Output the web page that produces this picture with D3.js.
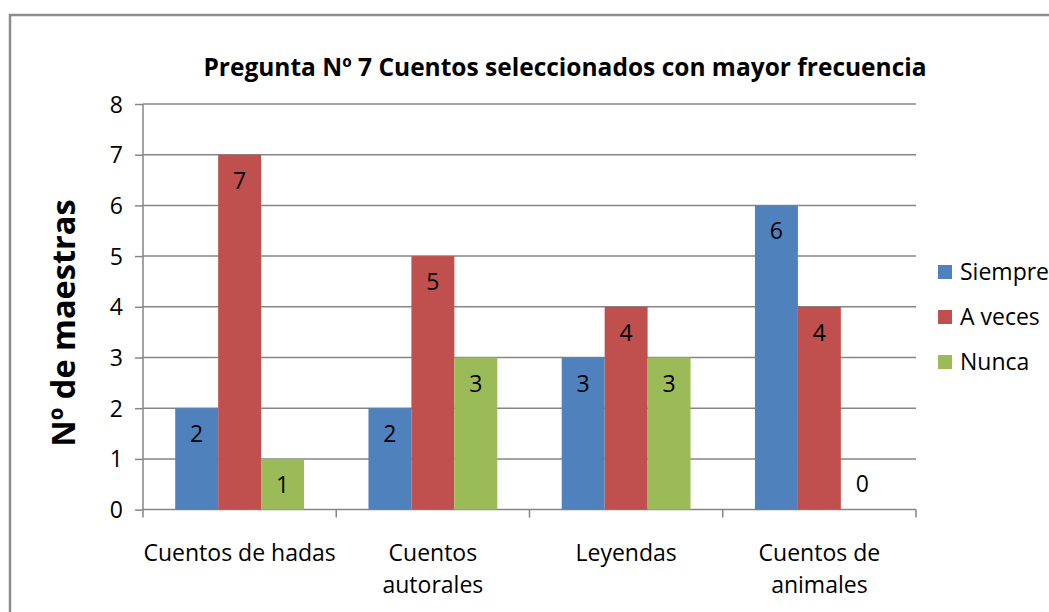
<!DOCTYPE html>
<html>
<head>
<meta charset="utf-8">
<script src="https://cdn.jsdelivr.net/npm/d3@7"></script>
<style>
  body { margin: 0; background: #fff; }
  svg { display: block; font-family: "Open Sans", sans-serif; }
</style>
</head>
<body>
<script>
// chart data
var categories = [["Cuentos de hadas"], ["Cuentos", "autorales"], ["Leyendas"], ["Cuentos de", "animales"]];
var seriesNames = ["Siempre", "A veces", "Nunca"];
var siempre = [2, 2, 3, 6];
var aVeces = [7, 5, 4, 4];
var nunca = [1, 3, 3, 0];
var yTicks = [0, 1, 2, 3, 4, 5, 6, 7, 8];

var colors = ["#4F81BD", "#C0504D", "#9BBB59"];
var series = [siempre, aVeces, nunca];

var W = 1049, H = 612;
var plotL = 143, plotR = 916, plotT = 104, plotB = 509.6;
var fs = 23;

var svg = d3.select("body").append("svg")
    .attr("width", W)
    .attr("height", H);

// outer chart border (runs off the right and bottom)
svg.append("rect")
   .attr("x", 10).attr("y", 15)
   .attr("width", 1100).attr("height", 700)
   .attr("fill", "none")
   .attr("stroke", "#8c8c8c")
   .attr("stroke-width", 2.5);

var x0 = d3.scaleBand()
    .domain(d3.range(categories.length))
    .range([plotL, plotR]);

// gap width 150% -> each bar is 1/4.5 of a category
var x1 = d3.scaleBand()
    .domain(d3.range(series.length))
    .range([0, x0.bandwidth()])
    .paddingOuter(0.75)
    .paddingInner(0);

var y = d3.scaleLinear().domain([0, 8]).range([plotB, plotT]);

// gridlines
svg.append("g")
   .selectAll("line")
   .data(yTicks.slice(1))
   .enter()
   .append("line")
   .attr("x1", plotL).attr("x2", plotR)
   .attr("y1", function (d) { return y(d); })
   .attr("y2", function (d) { return y(d); })
   .attr("stroke", "#868686")
   .attr("stroke-width", 1.5);

// y axis
var yAxis = d3.axisLeft(y).tickValues(yTicks).tickSize(8).tickPadding(12);
var gy = svg.append("g").attr("transform", "translate(" + plotL + ",0)").call(yAxis);
gy.select(".domain").attr("stroke", "#868686").attr("stroke-width", 1.5).attr("d", "M0," + plotT + "V" + plotB);
gy.selectAll(".tick line").attr("stroke", "#868686").attr("stroke-width", 1.5);
gy.selectAll(".tick text")
  .attr("font-family", "'Open Sans', sans-serif")
  .attr("font-size", fs)
  .attr("fill", "#000")
  .attr("dy", "0.35em");

// x axis line and category dividers
var xAxisG = svg.append("g");
xAxisG.append("line")
   .attr("x1", plotL).attr("x2", plotR)
   .attr("y1", plotB).attr("y2", plotB)
   .attr("stroke", "#868686").attr("stroke-width", 1.5);
xAxisG.selectAll(".div")
   .data(d3.range(categories.length + 1))
   .enter()
   .append("line")
   .attr("x1", function (i) { return plotL + i * x0.step(); })
   .attr("x2", function (i) { return plotL + i * x0.step(); })
   .attr("y1", plotB).attr("y2", plotB + 8)
   .attr("stroke", "#868686").attr("stroke-width", 1.5);

// category labels
var catText = svg.append("g").selectAll("text")
   .data(categories)
   .enter()
   .append("text")
   .attr("text-anchor", "middle")
   .attr("font-size", fs)
   .attr("fill", "#000")
   .attr("x", function (d, i) { return x0(i) + x0.bandwidth() / 2; })
   .attr("y", 561);
catText.selectAll("tspan")
   .data(function (d) { return d; })
   .enter()
   .append("tspan")
   .attr("x", function () { return d3.select(this.parentNode).attr("x"); })
   .attr("dy", function (d, i) { return i === 0 ? 0 : 32; })
   .text(function (d) { return d; });

// bars
var groups = svg.append("g").selectAll("g")
   .data(series)
   .enter()
   .append("g")
   .attr("fill", function (d, s) { return colors[s]; });

groups.each(function (vals, s) {
  var g = d3.select(this);
  g.selectAll("rect")
   .data(vals)
   .enter()
   .append("rect")
   .attr("x", function (d, i) { return x0(i) + x1(s); })
   .attr("y", function (d) { return y(d); })
   .attr("width", x1.bandwidth())
   .attr("height", function (d) { return plotB - y(d); });

  g.selectAll("text")
   .data(vals)
   .enter()
   .append("text")
   .attr("text-anchor", "middle")
   .attr("x", function (d, i) { return x0(i) + x1(s) + x1.bandwidth() / 2; })
   .attr("y", function (d) { return d > 0 ? y(d) + 26 : y(d) - 26; })
   .attr("dy", "0.35em")
   .attr("font-size", fs)
   .attr("fill", "#000")
   .text(function (d) { return d; });
});

// title
svg.append("text")
   .attr("x", 565).attr("y", 76)
   .attr("text-anchor", "middle")
   .attr("font-size", 24.5)
   .attr("font-weight", "bold")
   .attr("fill", "#000")
   .text("Pregunta Nº 7 Cuentos seleccionados con mayor frecuencia");

// y axis title
svg.append("text")
   .attr("transform", "translate(75,323) rotate(-90)")
   .attr("text-anchor", "middle")
   .attr("font-size", 32.5)
   .attr("font-weight", "bold")
   .attr("fill", "#000")
   .text("Nº de maestras");

// legend
var legend = svg.append("g").selectAll("g")
   .data(seriesNames)
   .enter()
   .append("g")
   .attr("transform", function (d, i) { return "translate(938," + (272 + i * 45) + ")"; });
legend.append("rect")
   .attr("x", 0).attr("y", -7)
   .attr("width", 14).attr("height", 14)
   .attr("fill", function (d, i) { return colors[i]; });
legend.append("text")
   .attr("x", 22).attr("dy", "0.35em")
   .attr("font-size", fs)
   .attr("fill", "#000")
   .text(function (d) { return d; });
</script>
</body>
</html>
